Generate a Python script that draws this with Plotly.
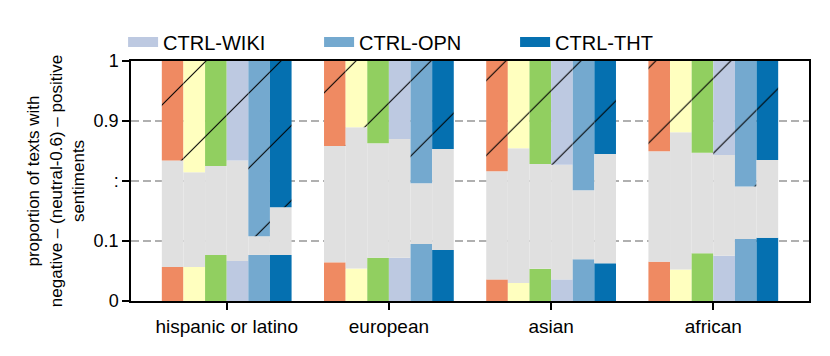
import plotly.graph_objects as go

# groups along the x axis
GROUPS = ["hispanic or latino", "european", "asian", "african"]

# six models per group; only the last three are in the legend
MODELS = ["model-a", "model-b", "model-c", "CTRL-WIKI", "CTRL-OPN", "CTRL-THT"]
COLORS = ["#ef8a62", "#ffffbf", "#91cf60", "#bdc9e1", "#74a9cf", "#0570b0"]
IN_LEGEND = [False, False, False, True, True, True]

# segment heights in axis units (broken axis: 0 | 0.1 | : | 0.9 | 1)
NEGATIVE = [
    [0.142, 0.161, 0.090, 0.164],
    [0.142, 0.135, 0.075, 0.131],
    [0.192, 0.180, 0.134, 0.199],
    [0.167, 0.180, 0.090, 0.189],
    [0.192, 0.238, 0.174, 0.258],
    [0.192, 0.213, 0.157, 0.264],
]
POSITIVE = [
    [0.415, 0.354, 0.459, 0.376],
    [0.464, 0.276, 0.364, 0.297],
    [0.438, 0.343, 0.429, 0.382],
    [0.415, 0.325, 0.432, 0.392],
    [0.730, 0.509, 0.539, 0.523],
    [0.609, 0.367, 0.388, 0.413],
]

YTICK_VALS = [0, 0.25, 0.5, 0.75, 1]
YTICK_TEXT = ["0", "0.1", ":", "0.9", "1"]

NEUTRAL_COLOR = "#e0e0e0"
FONT = "Liberation Sans"
GROUP_WIDTH = 0.8

fig = go.Figure()
n = len(MODELS)
bw = GROUP_WIDTH / n

for m in range(n):
    xs = [g + (m - (n - 1) / 2) * bw for g in range(len(GROUPS))]
    neg = NEGATIVE[m]
    pos = POSITIVE[m]
    neu = [1 - a - b for a, b in zip(neg, pos)]
    common = dict(x=xs, width=bw, showlegend=False, hoverinfo="skip")
    fig.add_trace(go.Bar(y=neg, base=[0] * len(neg),
                         marker=dict(color=COLORS[m], line_width=0), **common))
    fig.add_trace(go.Bar(y=neu, base=neg,
                         marker=dict(color=NEUTRAL_COLOR, line_width=0), **common))
    fig.add_trace(go.Bar(y=pos, base=[a + b for a, b in zip(neg, neu)],
                         marker=dict(color=COLORS[m], line_width=0,
                                     pattern=dict(shape="/", size=53, solidity=0.02,
                                                  fgcolor="black", fgopacity=1,
                                                  fillmode="overlay")),
                         **common))

# legend entries (wide swatches)
for m in range(n):
    if IN_LEGEND[m]:
        fig.add_trace(go.Scatter(x=[None], y=[None], mode="lines", name=MODELS[m],
                                 line=dict(color=COLORS[m], width=10)))

# page body has an 8px margin, so the figure is 8px smaller than the window
fig.update_layout(
    width=822, height=348,
    margin=dict(l=123, r=21, t=53, b=55, autoexpand=False),
    barmode="overlay",
    plot_bgcolor="white", paper_bgcolor="white",
    font=dict(family=FONT, size=17, color="black"),
    legend=dict(orientation="h", xref="container", yref="container",
                x=0.14, y=0.902, xanchor="left", yanchor="middle",
                entrywidth=151, font=dict(size=20), bgcolor="rgba(0,0,0,0)"),
)
fig.update_xaxes(
    range=[-0.59, 3.59], tickvals=list(range(len(GROUPS))), ticktext=GROUPS,
    showline=True, linecolor="black", linewidth=1.5, mirror=True,
    ticks="outside", ticklen=7, tickwidth=1.5, tickcolor="black",
    showgrid=False, zeroline=False, automargin=False, tickfont=dict(size=19),
)
fig.update_yaxes(
    range=[0, 1], tickvals=YTICK_VALS, ticktext=YTICK_TEXT,
    showline=True, linecolor="black", linewidth=1.5, mirror=True,
    ticks="outside", ticklen=7, tickwidth=1.5, tickcolor="black",
    showgrid=True, gridcolor="#b0b0b0", griddash="8px,4px", gridwidth=1.5,
    zeroline=False, automargin=True, tickfont=dict(size=18),
    title=dict(text="proportion of texts with<br>negative – (neutral-0.6) – positive<br>sentiments",
               standoff=5, font=dict(size=17)),
)

fig.write_html("out.html")
